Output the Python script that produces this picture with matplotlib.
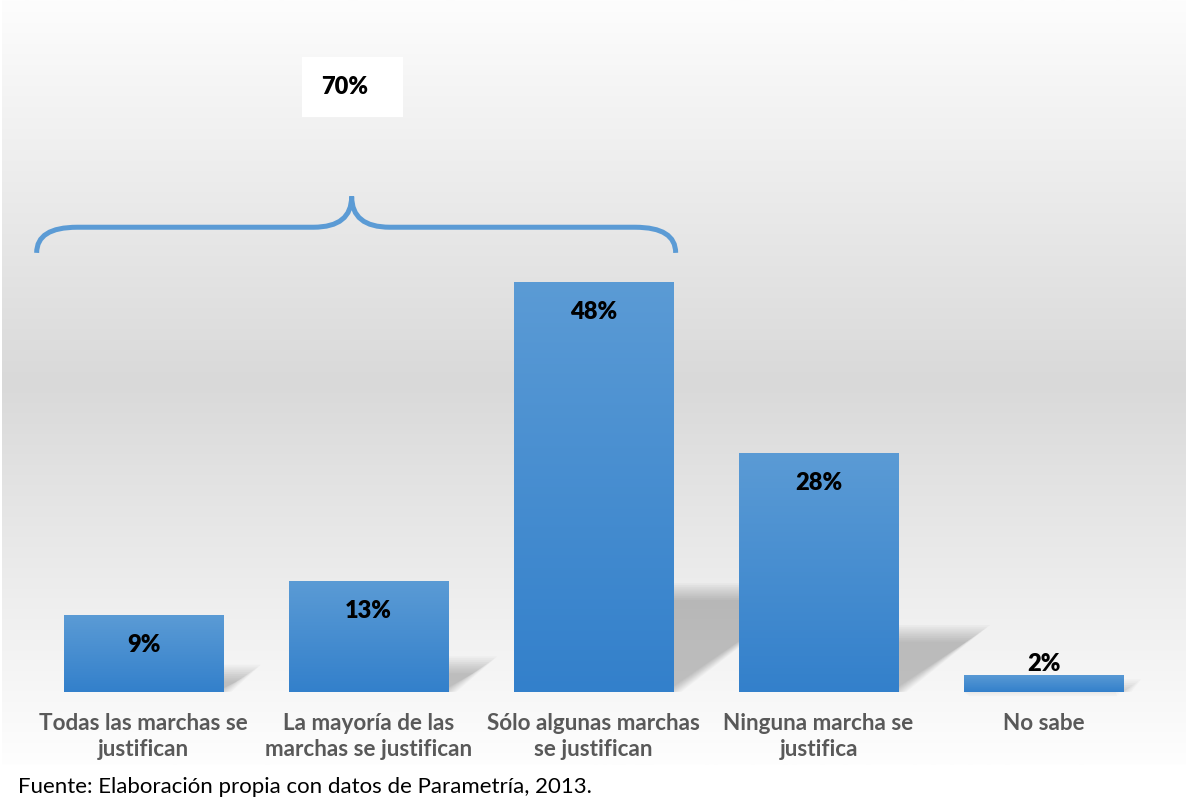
import numpy as np
import matplotlib.pyplot as plt
from matplotlib.colors import LinearSegmentedColormap
from matplotlib.patches import Polygon, Rectangle, PathPatch
from matplotlib.path import Path

categorias = ["Todas las marchas se\njustifican",
              "La mayoría de las\nmarchas se justifican",
              "Sólo algunas marchas\nse justifican",
              "Ninguna marcha se\njustifica",
              "No sabe"]
porcentajes = [9, 13, 48, 28, 2]
grupo = [0, 1, 2]  # barras que suman el 70%
fuente = "Fuente: Elaboración propia con datos de Parametría, 2013."

azul_claro = "#5b9bd5"
azul_oscuro = "#3380cb"
gris_texto = "#595959"

plt.rcParams['font.family'] = ['Lato', 'DejaVu Sans']

fig = plt.figure(figsize=(11.86, 8.01), dpi=100)
fig.patch.set_facecolor("white")

ax = fig.add_axes([2 / 1186, 36 / 801, 1184 / 1186, 765 / 801])
ax.axis("off")

# fondo degradado del area del grafico
pos = np.linspace(0, 1, 256)
gris = np.interp(pos, [0, 0.5, 1], [254, 217, 253]) / 255
fondo = np.dstack([gris, gris, gris]).reshape(256, 1, 3)
ax.imshow(fondo, origin="lower", extent=(0, 1, 0, 1), transform=ax.transAxes,
          aspect="auto", zorder=0)

x = np.arange(len(porcentajes))
ancho = 0.71

# sombras en perspectiva (difuminadas con capas)
for xi, v in zip(x, porcentajes):
    izq, der = xi - ancho / 2, xi + ancho / 2
    desp = v * 0.0127
    alto = v * 0.245
    for e in np.linspace(-0.035, 0.035, 10):
        ey = e * 28
        verts = [(izq, 0), (der + e, 0),
                 (der + desp + e * 1.5, alto + ey), (izq + desp, alto + ey)]
        ax.add_patch(Polygon(verts, closed=True, facecolor="black",
                             edgecolor="none", alpha=0.024, zorder=2))

# barras con degradado
barras = ax.bar(x, porcentajes, width=ancho, color="none", zorder=3)
cmap = LinearSegmentedColormap.from_list("azul", [azul_oscuro, azul_claro])
grad = np.linspace(0, 1, 256).reshape(256, 1)
for b in barras:
    im = ax.imshow(grad, cmap=cmap, origin="lower", aspect="auto",
                   extent=(b.get_x(), b.get_x() + b.get_width(), 0, b.get_height()),
                   zorder=3)
    im.set_clip_path(b)

# etiquetas de valores
for xi, v in zip(x, porcentajes):
    y_txt = v - 3.5 if v >= 5 else v + 1.3
    ax.text(xi, y_txt, f"{v}%", ha="center", va="center",
            fontsize=17, fontweight="heavy", color="black", zorder=5)

# etiquetas de categorias
for xi, cat in zip(x, categorias):
    ax.text(xi, -2.5, cat, ha="center", va="top", fontsize=16.2,
            fontweight="bold", color=gris_texto, linespacing=1.25,
            clip_on=True, zorder=5)

# llave sobre las tres primeras barras
x0 = x[grupo[0]] - ancho / 2 - 0.12
x1 = x[grupo[-1]] + ancho / 2 + 0.01
xm = (x0 + x1) / 2 - 0.02
tope = max(porcentajes[i] for i in grupo)
y_fin, y_h, y_punta = tope + 3.4, tope + 6.4, tope + 10
rx, rm = 0.18, 0.17
verts = [(x0, y_fin), (x0, y_h), (x0 + rx, y_h),
         (xm - rm, y_h), (xm, y_h), (xm, y_punta),
         (xm, y_h), (xm + rm, y_h),
         (x1 - rx, y_h), (x1, y_h), (x1, y_fin)]
codes = [Path.MOVETO, Path.CURVE3, Path.CURVE3,
         Path.LINETO, Path.CURVE3, Path.CURVE3,
         Path.CURVE3, Path.CURVE3,
         Path.LINETO, Path.CURVE3, Path.CURVE3]
ax.add_patch(PathPatch(Path(verts, codes), facecolor="none",
                       edgecolor=azul_claro, linewidth=3.6,
                       capstyle="butt", zorder=4))

# caja con el total
total = sum(porcentajes[i] for i in grupo)
y_caja = y_punta + 12.8
ax.add_patch(Rectangle((xm - 0.22, y_caja - 3.55), 0.45, 7.1,
                       facecolor="white", edgecolor="none", zorder=4))
ax.text(xm - 0.03, y_caja, f"{total}%", ha="center", va="center",
        fontsize=17, fontweight="heavy", color="black", zorder=5)

ax.set_xlim(-0.629, 4.633)
ax.set_ylim(-8.55, 81.0)

fig.text(18 / 1186, 1 - 787 / 801, fuente, ha="left", va="center",
         fontsize=16, color="black")

plt.savefig("out.png", dpi=100)
